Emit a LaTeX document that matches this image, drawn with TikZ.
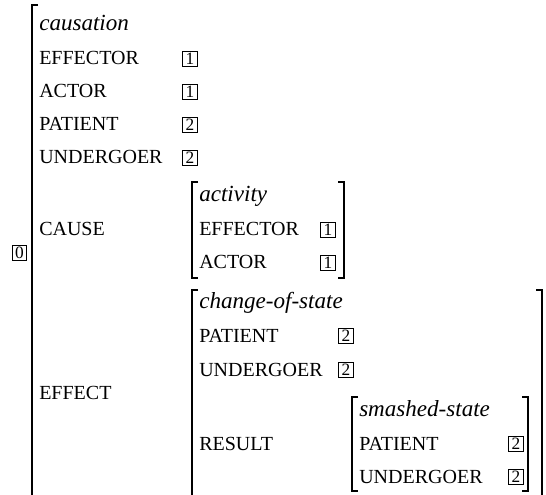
\documentclass[tikz,border=0pt]{standalone}
\usepackage{fontspec}
\setmainfont{Liberation Serif}
\usetikzlibrary{positioning}

\begin{document}
\begin{tikzpicture}[x=0.75pt, y=-0.75pt,
  attr/.style={anchor=base west, inner sep=0pt, font=\fontsize{15}{18}\selectfont},
  typ/.style={anchor=base west, inner sep=0pt, font=\fontsize{17.3}{20}\selectfont\itshape},
  tagbox/.style={draw, line width=0.5pt, inner sep=0pt, minimum width=10.8pt, minimum height=11.4pt, font=\fontsize{13}{13}\selectfont},
  brk/.style={line width=1pt, line cap=butt}]
\useasboundingbox (0,0) rectangle (546,495);
\clip (0,0) rectangle (546,495);
% outer matrix
\draw[brk] (38,5) -- (32,5) -- (32,500);
\node[typ] (caus) at (39,31) {causation};
\node[attr] (effA) at (39,65) {EFFECTOR};
\node[attr] (actA) at (39,98) {ACTOR};
\node[attr] (patA) at (39,131) {PATIENT};
\node[attr] (undA) at (39,164) {UNDERGOER};
\node[tagbox] (t1a) at (190,58.5) {1};
\node[tagbox] (t1b) at (190,91.5) {1};
\node[tagbox] (t2a) at (190,124.5) {2};
\node[tagbox] (t2b) at (190,157.5) {2};
\node[tagbox] (t0) at (19.5,253) {0};
% CAUSE
\node[attr] (cause) at (39,236) {CAUSE};
\draw[brk] (198,182) -- (192,182) -- (192,278) -- (198,278);
\draw[brk] (338,182) -- (344,182) -- (344,278) -- (338,278);
\node[typ] (act) at (199,202) {activity};
\node[attr] (effB) at (199,236) {EFFECTOR};
\node[attr] (actB) at (199,269) {ACTOR};
\node[tagbox] (t1c) at (328,229.5) {1};
\node[tagbox] (t1d) at (328,262.5) {1};
% EFFECT
\node[attr] (effect) at (39,399) {EFFECT};
\draw[brk] (198,290) -- (192,290) -- (192,500);
\draw[brk] (536,290) -- (542,290) -- (542,500);
\node[typ] (cos) at (199,308) {change-of-state};
\node[attr] (patC) at (199,342) {PATIENT};
\node[attr] (undC) at (199,376) {UNDERGOER};
\node[tagbox] (t2c) at (346,335.5) {2};
\node[tagbox] (t2d) at (346,369.5) {2};
% RESULT
\node[attr] (result) at (199,450) {RESULT};
\draw[brk] (358,397) -- (352,397) -- (352,491) -- (358,491);
\draw[brk] (522,397) -- (528,397) -- (528,491) -- (522,491);
\node[typ] (sms) at (359,416) {smashed-state};
\node[attr] (patD) at (359,450) {PATIENT};
\node[attr] (undD) at (359,483) {UNDERGOER};
\node[tagbox] (t2e) at (516,443.5) {2};
\node[tagbox] (t2f) at (516,476.5) {2};
\end{tikzpicture}
\end{document}
